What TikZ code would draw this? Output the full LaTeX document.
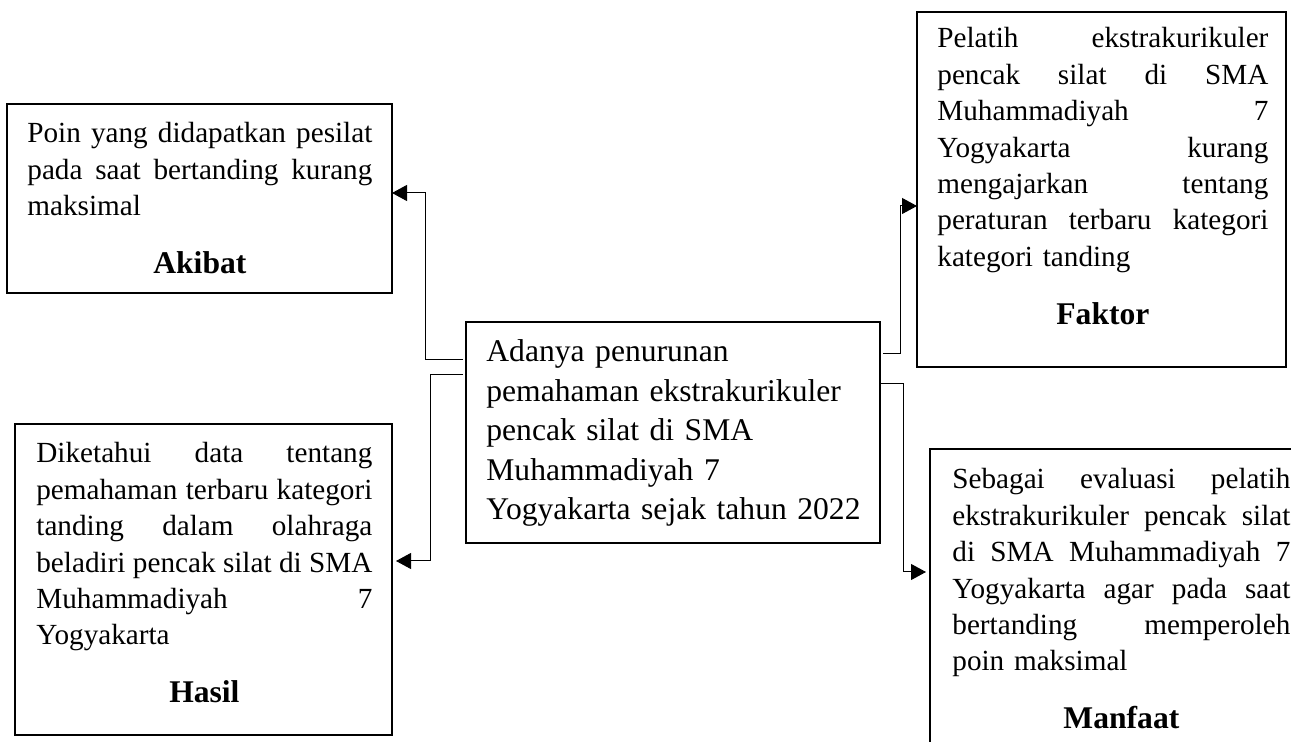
\documentclass[tikz,border=0pt]{standalone}
\usepackage{fontspec}
\setmainfont{Liberation Serif}
\usetikzlibrary{arrows.meta,calc}

\newcommand{\judul}[1]{\par\vspace{10pt}{\centering\fontsize{15.8}{19}\selectfont\bfseries #1\par}}

\tikzset{
  kotak/.style={draw, line width=0.7pt, anchor=north west, inner sep=0pt, outer sep=0pt},
  isi/.style={anchor=base west, inner sep=0pt, align=left, font={\fontsize{14.6}{18.2}\selectfont}},
  panah/.style={line width=0.5pt, -{Triangle[length=7.5pt,width=8pt]}}
}

\begin{document}
\begin{tikzpicture}[x=0.5pt,y=-0.5pt]
\path[use as bounding box, clip] (0,0) rectangle (1291,742);

% kotak
\node[kotak, minimum width=192.5pt, minimum height=94.5pt] (akibat) at (7,104) {};
\node[kotak, minimum width=188.5pt, minimum height=155.5pt] (hasil) at (15,424) {};
\node[kotak, minimum width=207pt, minimum height=110.5pt] (pusat) at (466,322) {};
\node[kotak, minimum width=184.5pt, minimum height=177.5pt] (faktor) at (917,12) {};
\node[kotak, minimum width=200pt, minimum height=160pt] (manfaat) at (930,449) {};

% isi kotak
\node[isi, text width=172.5pt] (akibat-isi) at (27,143) {%
  Poin\hfill yang\hfill didapatkan\hfill pesilat\\
  pada\hfill saat\hfill bertanding\hfill kurang\\
  maksimal
  \judul{Akibat}};

\node[isi, text width=168pt] (hasil-isi) at (36,463) {%
  Diketahui\hfill data\hfill tentang\\
  pemahaman\hfill terbaru\hfill kategori\\
  tanding\hfill dalam\hfill olahraga\\
  beladiri\hfill pencak\hfill silat\hfill di\hfill SMA\\
  Muhammadiyah\hfill 7\\
  Yogyakarta
  \judul{Hasil}};

\node[isi, text width=165.5pt] (faktor-isi) at (937,48) {%
  Pelatih\hfill ekstrakurikuler\\
  pencak\hfill silat\hfill di\hfill SMA\\
  Muhammadiyah\hfill 7\\
  Yogyakarta\hfill kurang\\
  mengajarkan\hfill tentang\\
  peraturan\hfill terbaru\hfill kategori\\
  kategori tanding
  \judul{Faktor}};

\node[isi, text width=169pt] (manfaat-isi) at (952,489) {%
  Sebagai\hfill evaluasi\hfill pelatih\\
  ekstrakurikuler\hfill pencak\hfill silat\\
  di\hfill SMA\hfill Muhammadiyah\hfill 7\\
  Yogyakarta\hfill agar\hfill pada\hfill saat\\
  bertanding\hfill memperoleh\\
  poin maksimal
  \judul{Manfaat}};

\node[isi, text width=200pt, font={\fontsize{15.8}{19.75}\selectfont}] (pusat-isi) at (486,362) {%
  Adanya penurunan\\
  pemahaman ekstrakurikuler\\
  pencak silat di SMA\\
  Muhammadiyah 7\\
  Yogyakarta sejak tahun 2022};

% panah
\draw[panah] ($(pusat.north west)+(-3,38)$) -- ++(-38,0) |- ($(akibat.north east)+(0,89)$);
\draw[panah] ($(pusat.north west)+(-3,53)$) -- ++(-33,0) |- ($(hasil.north east)+(4,137)$);
\draw[panah] ($(pusat.north east)+(3,32)$) -- ++(17,0) |- ($(faktor.north west)+(0,194)$);
\draw[panah] ($(pusat.north east)+(0,62)$) -- ++(23,0) |- ($(manfaat.north west)+(-4,123)$);
\end{tikzpicture}
\end{document}
